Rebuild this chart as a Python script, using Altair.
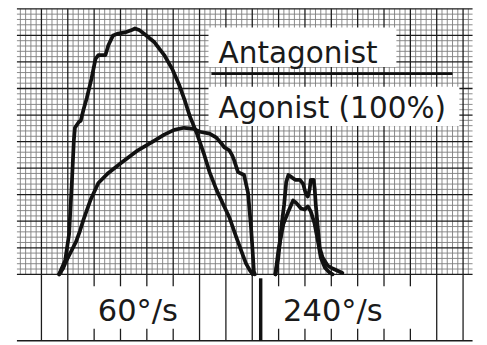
import altair as alt
import pandas as pd

# ---- data (grid units: 1 = one major square of the chart paper) ----
antag60_u = [0.67, 0.90, 1.05, 1.12, 1.16, 1.23, 1.27, 1.42, 1.49, 1.60, 1.72, 1.90, 2.05, 2.16, 2.43, 2.54,
             2.72, 2.91, 3.17, 3.40, 3.55, 3.73, 3.92, 4.29, 4.66, 4.96, 5.22, 5.45, 5.63, 5.90, 6.16, 6.38,
             6.64, 6.90, 7.13, 7.39, 7.58, 7.76, 7.91, 8.02]
antag60_v = [0.00, 0.52, 1.52, 2.82, 3.56, 5.04, 5.52, 5.74, 5.78, 6.22, 6.63, 7.37, 8.11, 8.26, 8.26, 8.63,
             9.00, 9.07, 9.11, 9.19, 9.26, 9.19, 9.04, 8.74, 8.26, 7.74, 7.15, 6.52, 5.96, 5.30, 4.56, 3.85,
             3.19, 2.63, 2.15, 1.41, 0.89, 0.41, 0.15, 0.00]

agon60_u = [0.67, 0.82, 0.93, 1.12, 1.31, 1.46, 1.60, 1.87, 2.16, 2.54, 3.02, 3.66, 4.29, 4.66, 5.04, 5.41,
            5.78, 6.01, 6.38, 6.64, 6.83, 6.94, 7.13, 7.24, 7.31, 7.46, 7.69, 7.84, 7.95, 8.02, 8.06, 8.10]
agon60_v = [0.00, 0.22, 0.48, 0.85, 1.22, 1.63, 2.07, 2.82, 3.44, 3.82, 4.19, 4.67, 5.04, 5.26, 5.44, 5.52,
            5.48, 5.37, 5.30, 5.15, 4.93, 4.78, 4.67, 4.48, 4.30, 3.85, 3.74, 3.07, 1.82, 0.78, 0.11, 0.00]

antag240_u = [8.88, 8.99, 9.10, 9.21, 9.29, 9.37, 9.48, 9.63, 9.81, 9.93, 10.03, 10.11, 10.18, 10.22, 10.33,
              10.37, 10.41, 10.49, 10.56, 10.67, 10.86, 11.05, 11.42]
antag240_v = [0.00, 0.63, 1.74, 2.63, 3.48, 3.74, 3.67, 3.56, 3.56, 3.41, 3.04, 2.93, 3.22, 3.56, 3.56,
              3.22, 2.63, 1.74, 1.00, 0.63, 0.33, 0.22, 0.05]

agon240_u = [8.88, 8.99, 9.18, 9.37, 9.55, 9.66, 9.85, 9.99, 10.11, 10.22, 10.36, 10.49, 10.60, 10.75, 10.93, 11.05]
agon240_v = [0.00, 0.89, 1.89, 2.37, 2.78, 2.70, 2.48, 2.44, 2.56, 2.37, 1.93, 1.26, 0.63, 0.26, 0.07, 0.00]

legend_top = "Antagonist"
legend_bottom = "Agonist (100%)"
speed_labels = ["60°/s", "240°/s"]
speed_label_u = [3.66, 11.06]

# ---- paper geometry (grid units) ----
U_LEFT, U_RIGHT = -0.93, 16.36
V_TOP, V_BASE, V_FOOT = 10, 0, -2.5
major_u = list(range(0, 17))
minor_u = [k / 5 for k in range(-4, 82) if k % 5 != 0]
major_v = list(range(0, 11))
minor_v = [k / 5 for k in range(1, 50) if k % 5 != 0]
full_foot_u = [0, 1, 6, 7, 8, 15, 16]
short_foot_u = [2, 3, 4, 5, 9, 10, 11, 12, 13, 14]
divider_u = 8.32

xs = alt.Scale(domain=[-34 / 26.8, 445 / 26.8], nice=False, zero=False)
ys = alt.Scale(domain=[-68 / 27, 10], nice=False, zero=False)


def vrules(us, v0, v1):
    return pd.DataFrame({"u": us, "v0": [v0] * len(us), "v1": [v1] * len(us)})


def hrules(vs, u0, u1):
    return pd.DataFrame({"v": vs, "u0": [u0] * len(vs), "u1": [u1] * len(vs)})


def vlayer(df, color, width):
    return alt.Chart(df).mark_rule(color=color, strokeWidth=width).encode(
        x=alt.X("u:Q", scale=xs, axis=None),
        y=alt.Y("v0:Q", scale=ys, axis=None),
        y2="v1:Q",
    )


def hlayer(df, color, width):
    return alt.Chart(df).mark_rule(color=color, strokeWidth=width).encode(
        x=alt.X("u0:Q", scale=xs, axis=None),
        x2="u1:Q",
        y=alt.Y("v:Q", scale=ys, axis=None),
    )


minor_col, minor_w = "#7d7d7d", 0.9
major_col, major_w = "#1c1c1c", 1.3

grid = [
    vlayer(vrules(minor_u, V_BASE, V_TOP), minor_col, minor_w),
    hlayer(hrules(minor_v, U_LEFT, U_RIGHT), minor_col, minor_w),
    vlayer(vrules(major_u, V_BASE, V_TOP), major_col, major_w),
    hlayer(hrules(major_v, U_LEFT, U_RIGHT), major_col, major_w),
    vlayer(vrules(full_foot_u, V_BASE, V_FOOT), major_col, major_w),
    vlayer(vrules(short_foot_u, V_BASE, -0.45), major_col, major_w),
    vlayer(vrules(short_foot_u, -2.05, V_FOOT), major_col, major_w),
    hlayer(hrules([V_FOOT], U_LEFT, U_RIGHT), major_col, 1.5),
    vlayer(vrules([divider_u], -0.15, V_FOOT), "#111111", 3.5),
]

boxes = pd.DataFrame({
    "u0": [6.34, 6.34], "u1": [13.47, 15.86],
    "v0": [9.30, 7.07], "v1": [7.81, 5.59],
})
box_layer = alt.Chart(boxes).mark_rect(color="white").encode(
    x=alt.X("u0:Q", scale=xs, axis=None), x2="u1:Q",
    y=alt.Y("v0:Q", scale=ys, axis=None), y2="v1:Q",
)
bar_layer = hlayer(hrules([7.56], 6.45, 15.6), "#111111", 3)

rows = []
for name, us, vs in [("antag60", antag60_u, antag60_v), ("agon60", agon60_u, agon60_v),
                     ("antag240", antag240_u, antag240_v), ("agon240", agon240_u, agon240_v)]:
    for i, (u, v) in enumerate(zip(us, vs)):
        rows.append({"seg": name, "i": i, "u": u, "v": v})
curves = pd.DataFrame(rows)
curve_layer = alt.Chart(curves).mark_line(
    color="#111111", strokeWidth=3.8, strokeJoin="round", strokeCap="round"
).encode(
    x=alt.X("u:Q", scale=xs, axis=None),
    y=alt.Y("v:Q", scale=ys, axis=None),
    detail="seg:N",
    order="i:Q",
)

legend_df = pd.DataFrame({"u": [6.72, 6.72], "v": [7.96, 5.89], "t": [legend_top, legend_bottom]})
legend_text = alt.Chart(legend_df).mark_text(
    font="DejaVu Sans", fontSize=30, align="left", baseline="alphabetic", color="#1a1a1a"
).encode(
    x=alt.X("u:Q", scale=xs, axis=None), y=alt.Y("v:Q", scale=ys, axis=None), text="t:N"
)

speed_df = pd.DataFrame({"u": speed_label_u, "v": [-1.74, -1.74], "t": speed_labels})
speed_text = alt.Chart(speed_df).mark_text(
    font="DejaVu Sans", fontSize=31, align="center", baseline="alphabetic", color="#1a1a1a"
).encode(
    x=alt.X("u:Q", scale=xs, axis=None), y=alt.Y("v:Q", scale=ys, axis=None), text="t:N"
)

chart = alt.layer(*grid, box_layer, bar_layer, curve_layer, legend_text, speed_text).properties(
    width=479,
    height=338,
    padding={"left": 0, "top": -2, "right": 0, "bottom": 0},
    autosize=alt.AutoSizeParams(type="none"),
    background="white",
).configure_view(stroke=None)

chart.save("out.html", embed_options={"renderer": "svg", "actions": False})
